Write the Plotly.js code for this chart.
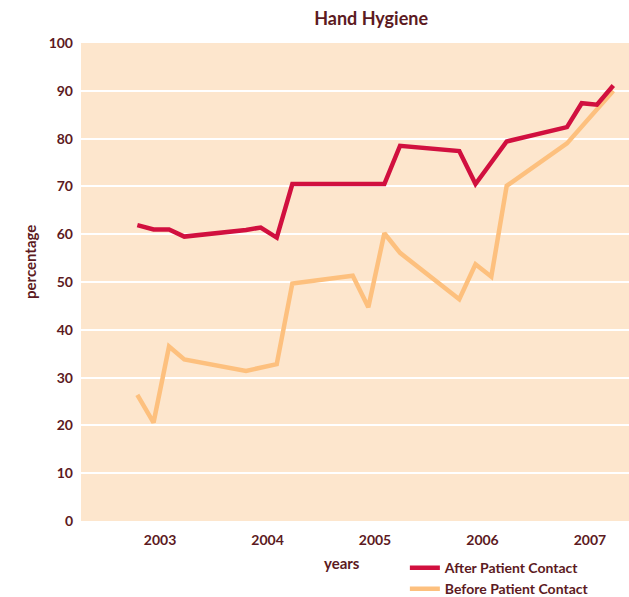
<!DOCTYPE html>
<html>
<head>
<meta charset="utf-8">
<script src="https://cdn.plot.ly/plotly-3.0.1.min.js"></script>
<style>html,body{margin:0;padding:0;background:#fff;}#chart{width:629px;height:597px;}</style>
</head>
<body>
<div id="chart"></div>
<script>
// Decimal-year positions of the measurements
const afterX = [2002.789, 2002.940, 2003.084, 2003.226, 2003.800, 2003.937, 2004.086, 2004.231, 2005.087, 2005.233, 2005.784, 2005.935, 2006.225, 2006.786, 2006.923, 2007.065, 2007.217];
const afterY = [61.9, 61.0, 61.0, 59.5, 60.9, 61.4, 59.3, 70.5, 70.5, 78.5, 77.4, 70.5, 79.4, 82.4, 87.4, 87.1, 91.1];

const beforeX = [2002.789, 2002.940, 2003.084, 2003.226, 2003.800, 2004.086, 2004.231, 2004.793, 2004.938, 2005.087, 2005.233, 2005.784, 2005.935, 2006.082, 2006.225, 2006.786, 2007.217];
const beforeY = [26.4, 20.6, 36.5, 33.8, 31.4, 32.8, 49.7, 51.3, 44.7, 60.2, 56.1, 46.4, 53.7, 51.1, 70.1, 79.0, 90.0];

const yearTicks = [2003, 2004, 2005, 2006, 2007];
const yearLabels = ['2003', '2004', '2005', '2006', '2007'];
const pctTicks = [0, 10, 20, 30, 40, 50, 60, 70, 80, 90, 100];

const seriesNames = ['After Patient Contact', 'Before Patient Contact'];

const textColor = '#5c1a22';
const fam = 'Lato, "Open Sans", sans-serif';
const mkFont = (s) => ({family: fam, color: textColor, size: s, weight: 'bold'});

const afterTrace = {x: afterX, y: afterY, name: seriesNames[0], type: 'scatter', mode: 'lines',
   line: {color: '#d1103f', width: 4.5}, legendrank: 1};
const beforeTrace = {x: beforeX, y: beforeY, name: seriesNames[1], type: 'scatter', mode: 'lines',
   line: {color: '#fdc07e', width: 4.5}, legendrank: 2};
// draw the before series under the after series
const data = [beforeTrace, afterTrace];

const layout = {
  width: 629, height: 597,
  margin: {l: 81, r: 0, t: 43, b: 76, pad: 0, autoexpand: false},
  paper_bgcolor: '#ffffff',
  plot_bgcolor: '#fde6cd',
  font: mkFont(13),
  title: {text: 'Hand Hygiene', x: 0.59, xref: 'container', xanchor: 'center',
          y: 0.968, yref: 'container', yanchor: 'middle', font: mkFont(18)},
  xaxis: {range: [2002.265, 2007.363], tickmode: 'array', tickvals: yearTicks, ticktext: yearLabels,
          showgrid: false, zeroline: false, showline: false, ticks: '', automargin: false,
          ticklabelstandoff: 9, tickfont: mkFont(14)},
  yaxis: {range: [0, 100], tickmode: 'array', tickvals: pctTicks, automargin: false,
          showgrid: true, gridcolor: '#ffffff', gridwidth: 2, zeroline: false, showline: false, ticks: '',
          ticklabelstandoff: 7, tickfont: mkFont(14)},
  showlegend: true,
  legend: {x: 0.591, xanchor: 'left', y: -0.065, yanchor: 'top', traceorder: 'normal',
           bgcolor: 'rgba(0,0,0,0)', font: mkFont(14)},
  annotations: [
    {text: 'percentage', xref: 'paper', yref: 'paper', x: -0.0931, y: 0.5418, textangle: -90,
     showarrow: false, xanchor: 'center', yanchor: 'middle', font: mkFont(15)},
    {text: 'years', xref: 'paper', yref: 'paper', x: 0.4763, y: -0.0879,
     showarrow: false, xanchor: 'center', yanchor: 'middle', font: mkFont(15)}
  ]
};

Plotly.newPlot('chart', data, layout, {displayModeBar: false, staticPlot: true});
</script>
</body>
</html>
